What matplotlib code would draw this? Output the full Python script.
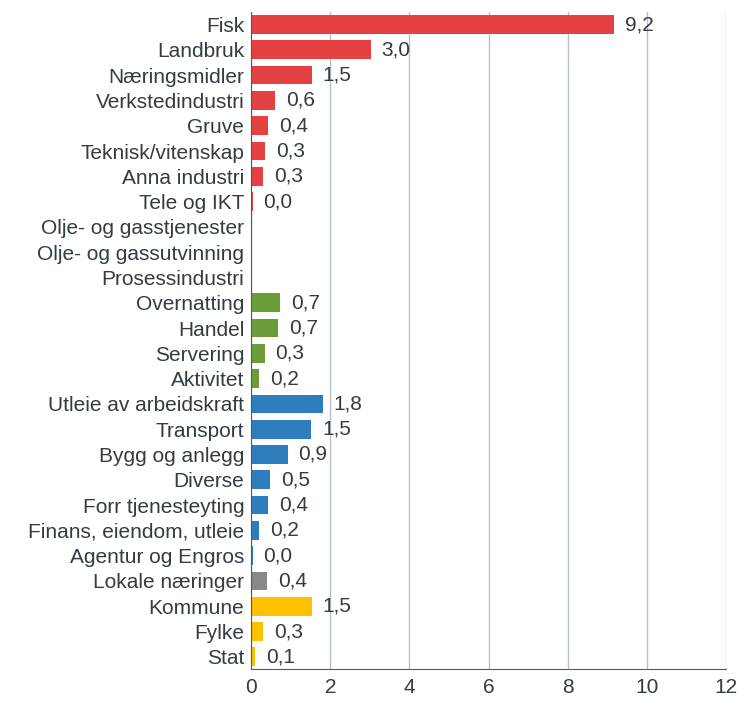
import numpy as np
import matplotlib.pyplot as plt

plt.rcParams['font.family'] = ['Liberation Sans', 'DejaVu Sans']

# kategoriar, verdiar og gruppe (fargar)
categories = ['Fisk', 'Landbruk', 'Næringsmidler', 'Verkstedindustri', 'Gruve',
              'Teknisk/vitenskap', 'Anna industri', 'Tele og IKT',
              'Olje- og gasstjenester', 'Olje- og gassutvinning', 'Prosessindustri',
              'Overnatting', 'Handel', 'Servering', 'Aktivitet',
              'Utleie av arbeidskraft', 'Transport', 'Bygg og anlegg', 'Diverse',
              'Forr tjenesteyting', 'Finans, eiendom, utleie', 'Agentur og Engros',
              'Lokale næringer', 'Kommune', 'Fylke', 'Stat']
values = [9.17, 3.03, 1.54, 0.61, 0.43, 0.35, 0.30, 0.04,
          None, None, None,
          0.74, 0.68, 0.34, 0.20,
          1.82, 1.52, 0.93, 0.48, 0.43, 0.20, 0.04,
          0.40, 1.54, 0.30, 0.10]
groups = ['bas'] * 11 + ['besok'] * 4 + ['regional'] * 7 + ['lokal'] + ['offentleg'] * 3

colors = {'bas': '#e54142', 'besok': '#6a9c39', 'regional': '#2e7ebf',
          'lokal': '#888888', 'offentleg': '#ffc000'}
txt = '#333c44'

fig = plt.figure(figsize=(7.43, 7.01), dpi=100)
ax = fig.add_axes([0.338, 0.045, 0.639, 0.938])

y = np.arange(len(categories))
for i, (v, g) in enumerate(zip(values, groups)):
    if v is None:
        continue
    ax.barh(i, v, height=0.74, color=colors[g], zorder=3)
    ax.text(v + 0.27, i, f'{v:.1f}'.replace('.', ','), va='center', ha='left',
            fontsize=15, color=txt)

ax.set_yticks(y)
ax.set_yticklabels(categories, fontsize=15, color=txt)
ax.set_ylim(len(categories) - 0.5, -0.5)
ax.set_xlim(0, 12)
ax.set_xticks(range(0, 13, 2))
ax.tick_params(axis='x', labelsize=15, colors=txt, length=0, pad=6)
ax.tick_params(axis='y', length=0, pad=5)

ax.grid(axis='x', color='#b4c1cb', linewidth=1, zorder=0)
for s in ['top', 'right']:
    ax.spines[s].set_visible(False)
ax.spines['left'].set_color('#4d5b66')
ax.spines['bottom'].set_color('#4d5b66')
ax.spines['left'].set_zorder(4)

fig.savefig('out.png', dpi=100)
